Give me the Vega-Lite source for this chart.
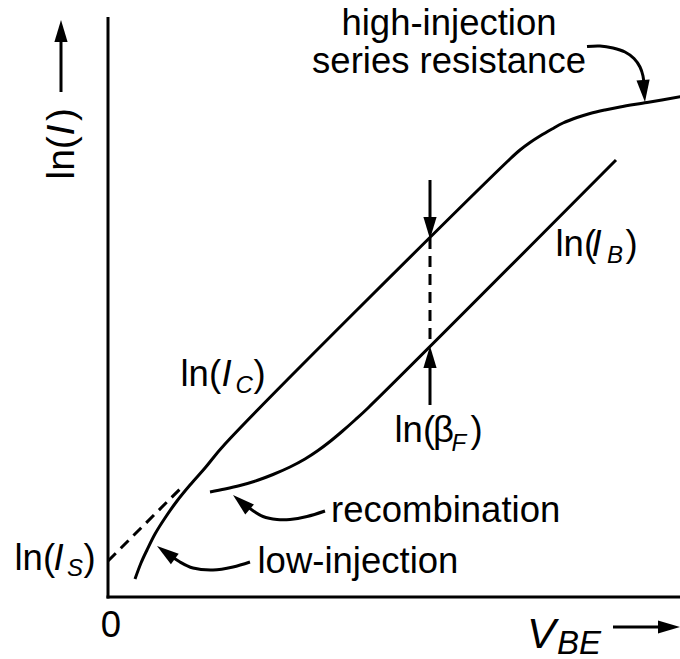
{
  "$schema": "https://vega.github.io/schema/vega-lite/v6.json",
  "width": 680,
  "height": 659,
  "padding": 0,
  "autosize": {"type": "none"},
  "config": {"view": {"stroke": null}, "font": "Liberation Sans"},
  "datasets": {
    "lines": [
      {"s": "axisY", "i": 0, "x": 0, "y": 580},
      {"s": "axisY", "i": 1, "x": 0, "y": -1.5},
      {"s": "axisX", "i": 0, "x": -1.5, "y": 0},
      {"s": "axisX", "i": 1, "x": 572, "y": 0},
      {"s": "lnIarrow", "i": 0, "x": -47, "y": 505},
      {"s": "lnIarrow", "i": 1, "x": -47, "y": 562},
      {"s": "vbeArrow", "i": 0, "x": 505, "y": -30},
      {"s": "vbeArrow", "i": 1, "x": 562, "y": -30},
      {"s": "betaDown", "i": 0, "x": 322, "y": 417},
      {"s": "betaDown", "i": 1, "x": 322, "y": 371},
      {"s": "betaUp", "i": 0, "x": 322, "y": 192},
      {"s": "betaUp", "i": 1, "x": 322, "y": 242}
    ],
    "dashes": [
      {"s": "isExt", "i": 0, "x": 0, "y": 36},
      {"s": "isExt", "i": 1, "x": 74, "y": 110},
      {"s": "beta", "i": 0, "x": 322, "y": 359},
      {"s": "beta", "i": 1, "x": 322, "y": 251}
    ],
    "curves": [
      {"s": "IC", "i": 0, "x": 27, "y": 18},
      {"s": "IC", "i": 1, "x": 33, "y": 34},
      {"s": "IC", "i": 2, "x": 39, "y": 47},
      {"s": "IC", "i": 3, "x": 47, "y": 63},
      {"s": "IC", "i": 4, "x": 57, "y": 79},
      {"s": "IC", "i": 5, "x": 69, "y": 96},
      {"s": "IC", "i": 6, "x": 82, "y": 112},
      {"s": "IC", "i": 7, "x": 97, "y": 129},
      {"s": "IC", "i": 8, "x": 117, "y": 153},
      {"s": "IC", "i": 9, "x": 402, "y": 438},
      {"s": "IC", "i": 10, "x": 412, "y": 447},
      {"s": "IC", "i": 11, "x": 422, "y": 454.5},
      {"s": "IC", "i": 12, "x": 432, "y": 461},
      {"s": "IC", "i": 13, "x": 444, "y": 468},
      {"s": "IC", "i": 14, "x": 455, "y": 474},
      {"s": "IC", "i": 15, "x": 469, "y": 479.5},
      {"s": "IC", "i": 16, "x": 482, "y": 483.5},
      {"s": "IC", "i": 17, "x": 497, "y": 487},
      {"s": "IC", "i": 18, "x": 512, "y": 490},
      {"s": "IC", "i": 19, "x": 539, "y": 494.5},
      {"s": "IC", "i": 20, "x": 574, "y": 500.5},
      {"s": "IB", "i": 0, "x": 102, "y": 105},
      {"s": "IB", "i": 1, "x": 117, "y": 108},
      {"s": "IB", "i": 2, "x": 132, "y": 111.5},
      {"s": "IB", "i": 3, "x": 149, "y": 116.5},
      {"s": "IB", "i": 4, "x": 165, "y": 122.5},
      {"s": "IB", "i": 5, "x": 182, "y": 130},
      {"s": "IB", "i": 6, "x": 197, "y": 138},
      {"s": "IB", "i": 7, "x": 210, "y": 146.5},
      {"s": "IB", "i": 8, "x": 222, "y": 155.5},
      {"s": "IB", "i": 9, "x": 234, "y": 165.5},
      {"s": "IB", "i": 10, "x": 247, "y": 177},
      {"s": "IB", "i": 11, "x": 260, "y": 189},
      {"s": "IB", "i": 12, "x": 508, "y": 437},
      {"s": "recArrow", "i": 0, "x": 217, "y": 86},
      {"s": "recArrow", "i": 1, "x": 199, "y": 80.5},
      {"s": "recArrow", "i": 2, "x": 182, "y": 77.5},
      {"s": "recArrow", "i": 3, "x": 169, "y": 77.5},
      {"s": "recArrow", "i": 4, "x": 155, "y": 80.5},
      {"s": "recArrow", "i": 5, "x": 144, "y": 87},
      {"s": "recArrow", "i": 6, "x": 137, "y": 92.5},
      {"s": "lowArrow", "i": 0, "x": 142, "y": 35},
      {"s": "lowArrow", "i": 1, "x": 125, "y": 30},
      {"s": "lowArrow", "i": 2, "x": 105, "y": 27},
      {"s": "lowArrow", "i": 3, "x": 85, "y": 29},
      {"s": "lowArrow", "i": 4, "x": 72, "y": 35},
      {"s": "lowArrow", "i": 5, "x": 62, "y": 42},
      {"s": "highArrow", "i": 0, "x": 479, "y": 550.5},
      {"s": "highArrow", "i": 1, "x": 492, "y": 551},
      {"s": "highArrow", "i": 2, "x": 505, "y": 549},
      {"s": "highArrow", "i": 3, "x": 517, "y": 545},
      {"s": "highArrow", "i": 4, "x": 526, "y": 538.5},
      {"s": "highArrow", "i": 5, "x": 532, "y": 530},
      {"s": "highArrow", "i": 6, "x": 535, "y": 521},
      {"s": "highArrow", "i": 7, "x": 536, "y": 512}
    ],
    "heads": [
      {"x": -47, "y": 566, "a": 0},
      {"x": 561, "y": -30, "a": 90},
      {"x": 322, "y": 369, "a": 180},
      {"x": 322, "y": 240, "a": 0},
      {"x": 133.3, "y": 94.8, "a": 311},
      {"x": 57.9, "y": 44.5, "a": 306},
      {"x": 536, "y": 506, "a": 175}
    ],
    "texts": [
      {"t": "high-injection", "x": 341, "y": 562, "r": "mid"},
      {"t": "series resistance", "x": 341, "y": 524, "r": "mid"},
      {"t": "0", "x": 3, "y": -40, "r": "mid"},
      {"t": "recombination", "x": 223, "y": 75, "r": "lab"},
      {"t": "low-injection", "x": 149.5, "y": 24, "r": "lab"},
      {"t": "ln(", "x": 72.5, "y": 211, "r": "lab"},
      {"t": "I", "x": 113.5, "y": 211, "r": "it"},
      {"t": "C", "x": 127.5, "y": 204, "r": "sub"},
      {"t": ")", "x": 145.5, "y": 211, "r": "lab"},
      {"t": "ln(", "x": 447.5, "y": 341, "r": "lab"},
      {"t": "I", "x": 483.5, "y": 341, "r": "it"},
      {"t": "B", "x": 499, "y": 334, "r": "sub"},
      {"t": ")", "x": 517.5, "y": 341, "r": "lab"},
      {"t": "ln(", "x": -93.5, "y": 27, "r": "lab"},
      {"t": "I", "x": -54.5, "y": 27, "r": "it"},
      {"t": "S", "x": -41, "y": 21, "r": "sub"},
      {"t": ")", "x": -24.5, "y": 27, "r": "lab"},
      {"t": "ln(", "x": 286.5, "y": 155, "r": "lab"},
      {"t": "β", "x": 325, "y": 155, "r": "lab"},
      {"t": "F", "x": 343.5, "y": 146, "r": "sub"},
      {"t": ")", "x": 362.5, "y": 155, "r": "lab"},
      {"t": "ln(", "x": -34, "y": 417.5, "r": "rot"},
      {"t": "I", "x": -34, "y": 461.5, "r": "rotit"},
      {"t": ")", "x": -34, "y": 476, "r": "rot"},
      {"t": "V", "x": 419, "y": -51, "r": "v"},
      {"t": "BE", "x": 449, "y": -57, "r": "vsub"}
    ]
  },
  "encoding": {
    "x": {"field": "x", "type": "quantitative", "scale": {"domain": [-108, 572], "nice": false, "zero": false}, "axis": null},
    "y": {"field": "y", "type": "quantitative", "scale": {"domain": [-62, 597], "nice": false, "zero": false}, "axis": null}
  },
  "layer": [
    {
      "data": {"name": "lines"},
      "mark": {"type": "line", "color": "black", "strokeWidth": 3},
      "encoding": {"detail": {"field": "s"}, "order": {"field": "i", "type": "quantitative"}}
    },
    {
      "data": {"name": "dashes"},
      "mark": {"type": "line", "color": "black", "strokeWidth": 3, "strokeDash": [11, 7]},
      "encoding": {"detail": {"field": "s"}, "order": {"field": "i", "type": "quantitative"}}
    },
    {
      "data": {"name": "curves"},
      "mark": {"type": "line", "color": "black", "strokeWidth": 3, "interpolate": "catmull-rom"},
      "encoding": {"detail": {"field": "s"}, "order": {"field": "i", "type": "quantitative"}}
    },
    {
      "data": {"name": "heads"},
      "mark": {"type": "point", "filled": true, "color": "black", "opacity": 1, "strokeWidth": 0, "shape": "M0,-1L0.6,1L-0.6,1Z", "size": 484},
      "encoding": {"angle": {"field": "a", "type": "quantitative", "scale": null}}
    },
    {
      "data": {"name": "texts"},
      "transform": [{"filter": "datum.r === 'mid'"}],
      "mark": {"type": "text", "color": "black", "fontSize": 36.5, "align": "center", "baseline": "alphabetic"},
      "encoding": {"text": {"field": "t"}}
    },
    {
      "data": {"name": "texts"},
      "transform": [{"filter": "datum.r === 'lab'"}],
      "mark": {"type": "text", "color": "black", "fontSize": 36.5, "align": "left", "baseline": "alphabetic"},
      "encoding": {"text": {"field": "t"}}
    },
    {
      "data": {"name": "texts"},
      "transform": [{"filter": "datum.r === 'it'"}],
      "mark": {"type": "text", "color": "black", "fontSize": 36.5, "fontStyle": "italic", "align": "left", "baseline": "alphabetic"},
      "encoding": {"text": {"field": "t"}}
    },
    {
      "data": {"name": "texts"},
      "transform": [{"filter": "datum.r === 'sub'"}],
      "mark": {"type": "text", "color": "black", "fontSize": 24, "fontStyle": "italic", "align": "left", "baseline": "alphabetic"},
      "encoding": {"text": {"field": "t"}}
    },
    {
      "data": {"name": "texts"},
      "transform": [{"filter": "datum.r === 'rot'"}],
      "mark": {"type": "text", "color": "black", "fontSize": 39, "angle": 270, "align": "left", "baseline": "alphabetic"},
      "encoding": {"text": {"field": "t"}}
    },
    {
      "data": {"name": "texts"},
      "transform": [{"filter": "datum.r === 'rotit'"}],
      "mark": {"type": "text", "color": "black", "fontSize": 39, "fontStyle": "italic", "angle": 270, "align": "left", "baseline": "alphabetic"},
      "encoding": {"text": {"field": "t"}}
    },
    {
      "data": {"name": "texts"},
      "transform": [{"filter": "datum.r === 'v'"}],
      "mark": {"type": "text", "color": "black", "fontSize": 43, "fontStyle": "italic", "align": "left", "baseline": "alphabetic"},
      "encoding": {"text": {"field": "t"}}
    },
    {
      "data": {"name": "texts"},
      "transform": [{"filter": "datum.r === 'vsub'"}],
      "mark": {"type": "text", "color": "black", "fontSize": 33, "fontStyle": "italic", "align": "left", "baseline": "alphabetic"},
      "encoding": {"text": {"field": "t"}}
    }
  ]
}
